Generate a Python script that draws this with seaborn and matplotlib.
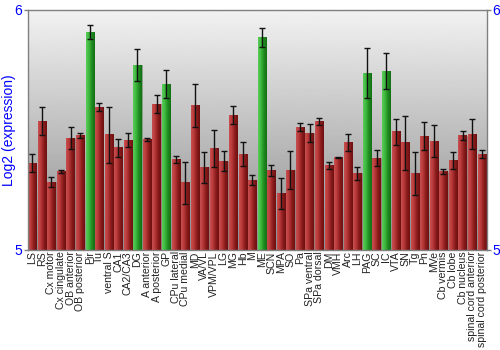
import numpy as np
import pandas as pd
import matplotlib
matplotlib.use("Agg")
import matplotlib.pyplot as plt
import seaborn as sns
from matplotlib.colors import LinearSegmentedColormap

regions = ["LS", "RS", "Cx motor", "Cx cingulate", "OB anterior", "OB posterior", "Pir", "Tu",
           "ventral S", "CA1", "CA2/CA3", "DG", "A anterior", "A posterior", "GP", "CPu lateral",
           "CPu medial", "MD", "VA/VL", "VPM/VPL", "LG", "MG", "Hb", "M", "ME", "SCN", "MPA", "SO",
           "Pa", "SPa ventral", "SPa dorsal", "DM", "VMH", "Arc", "LH", "PAG", "SC", "IC", "VTA",
           "SN", "Tg", "Pn", "MVe", "Cb vermis", "Cb lobe", "Cb nucleus", "spinal cord anterior",
           "spinal cord posterior"]
values = [5.362, 5.537, 5.283, 5.327, 5.466, 5.476, 5.907, 5.595,
          5.479, 5.425, 5.456, 5.770, 5.460, 5.607, 5.691, 5.376,
          5.280, 5.601, 5.344, 5.421, 5.370, 5.562, 5.399, 5.291, 5.885, 5.330, 5.236, 5.333,
          5.512, 5.487, 5.534, 5.353, 5.384, 5.446, 5.319, 5.737, 5.381, 5.745, 5.492,
          5.446, 5.317, 5.474, 5.453, 5.326, 5.371, 5.476, 5.483,
          5.398]
errors = [0.037, 0.059, 0.022, 0.007, 0.047, 0.012, 0.029, 0.018,
          0.117, 0.037, 0.029, 0.068, 0.006, 0.037, 0.060, 0.015,
          0.087, 0.090, 0.065, 0.077, 0.042, 0.037, 0.050, 0.021, 0.038, 0.024, 0.064, 0.080,
          0.017, 0.037, 0.015, 0.014, 0.003, 0.035, 0.026, 0.105, 0.033, 0.073, 0.055,
          0.113, 0.089, 0.058, 0.068, 0.010, 0.035, 0.020, 0.062,
          0.017]
highlight = ["Pir", "DG", "GP", "ME", "PAG", "IC"]

plt.rcParams["font.family"] = ["Liberation Sans", "DejaVu Sans"]

df = pd.DataFrame({"region": regions, "value": values, "err": errors})
groups = ["hi" if r in highlight else "lo" for r in regions]
colors = {"hi": "#2fa62f", "lo": "#b03232"}

fig = plt.figure(figsize=(5, 3.5), dpi=100)
ax = fig.add_axes([0.055, 0.286, 0.918, 0.686])

sns.barplot(data=df, x="region", y="value", hue="region",
            palette=[colors[g] for g in groups], legend=False, ax=ax, width=0.86,
            saturation=1, zorder=2)

ymin, ymax = 5, 6
n = len(regions)
ax.set_ylim(ymin, ymax)
ax.set_xlim(-0.5, n - 0.5)

# background gradient
bg = np.linspace(0.55, 0.95, 256).reshape(-1, 1)
ax.imshow(bg, cmap="gray", vmin=0, vmax=1, aspect="auto", extent=[-0.5, n - 0.5, ymin, ymax],
          origin="lower", zorder=0)

# horizontal gradient on bars
cm_red = LinearSegmentedColormap.from_list("r", ["#c85050", "#b83838", "#8a1c1c", "#6e1010"])
cm_grn = LinearSegmentedColormap.from_list("g", ["#5ccc5c", "#3cb83c", "#1f8a1f", "#147014"])
grad = np.linspace(0, 1, 64).reshape(1, -1)
for p in list(ax.patches):
    x0, y0 = p.get_x(), p.get_y()
    w, h = p.get_width(), p.get_height()
    idx = int(round(x0 + w / 2))
    grp = groups[idx]
    p.set_edgecolor("#909090")
    p.set_linewidth(0.4)
    ax.imshow(grad, cmap=cm_grn if grp == "hi" else cm_red, aspect="auto",
              extent=[x0, x0 + w, max(y0, ymin), y0 + h], zorder=2.5)

ax.errorbar(np.arange(n), df["value"], yerr=df["err"], fmt="none",
            ecolor="#111111", elinewidth=1.0, capsize=2.2, capthick=1.0, zorder=4)

ax.set_xlim(-0.5, n - 0.5)
ax.set_ylim(ymin, ymax)
ax.set_yticks([5, 6])
ax.set_yticklabels(["5", "6"])
ax.tick_params(axis="y", colors="#808080", labelcolor="#0000ff", labelsize=10, length=3,
               width=1, left=True, right=True, labelleft=True, labelright=True, pad=1)
ax.tick_params(axis="x", length=0, labelsize=7.6, labelcolor="#222222", pad=1)
plt.setp(ax.get_xticklabels(), rotation=90)
ax.set_xlabel("")
ax.set_ylabel("Log2 (expression)", color="#0000ff", fontsize=10)
ax.yaxis.set_label_coords(-0.025, 0.5)
for s in ax.spines.values():
    s.set_color("#808080")
    s.set_linewidth(1)

fig.savefig("out.png", dpi=100)
